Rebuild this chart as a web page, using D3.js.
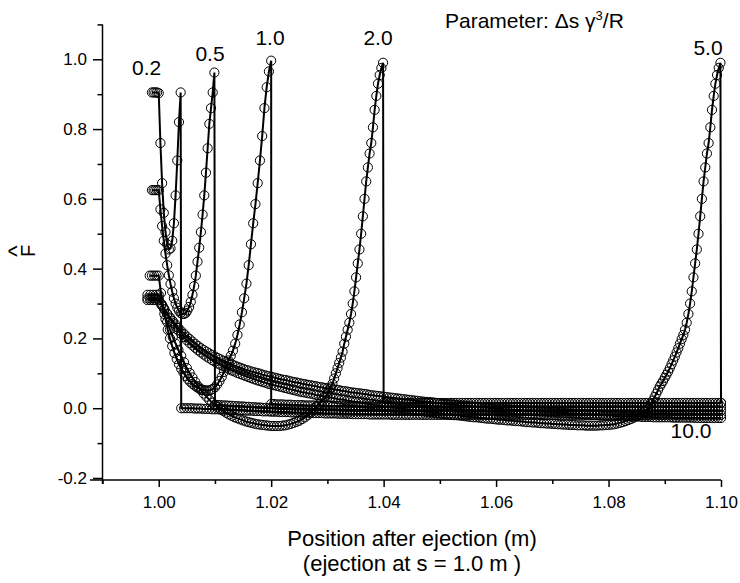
<!DOCTYPE html>
<meta charset="utf-8">
<title>F hat after ejection</title>
<style>
  body { margin: 0; background: #fff; }
  svg text { font-family: "Liberation Sans", Arial, sans-serif; fill: #000; }
  .curve { fill: none; stroke: #000; stroke-width: 2; }
  .mark { fill: none; stroke: #000; stroke-width: 1; }
  .axis path, .axis line { stroke: #000; stroke-width: 1.5; }
</style>
<body>
<svg id="chart" width="740" height="583"></svg>
<script src="https://d3js.org/d3.v7.min.js"></script>
<script>
// ---- data ----
// each piece: start s, step in s, F-hat values
var curveLabels = ["0.2", "0.5", "1.0", "2.0", "5.0", "10.0"];

var xMajor = [1.00, 1.02, 1.04, 1.06, 1.08, 1.10];
var xMinor = [0.99, 1.01, 1.03, 1.05, 1.07, 1.09];
var yMajor = [-0.2, 0.0, 0.2, 0.4, 0.6, 0.8, 1.0];
var yMinor = [-0.1, 0.1, 0.3, 0.5, 0.7, 0.9, 1.1];

// 0.2
var f02Head = [.905,.905,.905,.905,.903,.76,.645,.56,.505,.47,.455,.458,.48,.53,.61,.71,.82,.905];
var f02Tail = [0,0,0,0,0,-.001,-.001,-.001,-.002,-.002,
  -.002,-.003,-.003,-.003,-.004,-.004,-.004,-.005,-.005,-.005,
  -.006,-.006,-.006,-.007,-.007,-.007,-.008,-.008,-.008,-.009,
  -.009,-.009,-.010,-.010,-.010,-.011,-.011,-.011,-.011,-.012,
  -.012,-.012,-.012,-.013,-.013,-.013,-.013,-.014,-.014,-.014,
  -.014,-.015,-.015,-.015,-.015,-.015,-.016,-.016,-.016,-.016,
  -.016,-.017,-.017,-.017,-.017,-.017,-.017,-.018,-.018,-.018,
  -.018,-.018,-.018,-.018,-.018,-.019,-.019,-.019,-.019,-.019,
  -.019,-.019,-.019,-.019,-.019,-.019,-.019,-.019,-.019,-.019,
  -.019,-.019,-.019,-.019,-.019,-.019,-.019,-.019,-.019,-.019,
  -.019,-.019,-.019,-.019,-.019,-.019,-.019,-.019,-.019,-.019,
  -.019,-.019,-.019,-.019,-.019,-.019,-.019,-.019,-.019,-.019,
  -.019,-.019,-.019,-.019,-.019,-.019,-.019,-.019,-.019,-.019,
  -.019,-.019,-.019,-.019,-.019,-.019,-.019,-.019,-.019,-.019,
  -.019,-.019,-.019,-.019,-.019,-.019,-.019,-.019,-.019,-.019,
  -.019,-.019,-.019,-.019,-.019,-.019,-.019,-.019,-.019,-.019,
  -.019,-.019,-.019,-.019,-.019,-.019,-.019,-.019,-.019,-.019,
  -.019,-.019,-.019,-.019,-.019,-.019,-.019,-.019,-.019,-.019,
  -.019,-.019,-.019,-.019,-.019,-.019,-.019,-.019,-.019,-.019,
  -.019,-.019,-.019];

// 0.5
var f05Head = [.625,.625,.625,.625,
  .625,.57,.522,.48,.443,.41,.381,.356,.334,.315,
  .30,.288,.279,.273,.27,.27,.273,.28,.29,.305,
  .325,.35,.38,.42,.46,.505,.555,.61,.675,.745,
  .815,.86,.905,.962];
var f05Tail = [.010,.009,.009,.008,.008,.007,.007,.006,.006,.005,
  .005,.004,.004,.003,.003,.002,.002,.001,.001,0,
  0,-.001,-.001,-.002,-.002,-.002,-.003,-.003,-.003,-.004,
  -.004,-.004,-.004,-.005,-.005,-.005,-.005,-.005,-.006,-.006,
  -.006,-.006,-.006,-.006,-.006,-.007,-.007,-.007,-.007,-.007,
  -.007,-.007,-.007,-.007,-.007,-.007,-.007,-.007,-.007,-.007,
  -.007,-.007,-.007,-.007,-.007,-.007,-.007,-.007,-.007,-.007,
  -.007,-.007,-.007,-.007,-.007,-.007,-.007,-.007,-.007,-.007,
  -.007,-.007,-.007,-.007,-.007,-.007,-.007,-.007,-.007,-.007,
  -.007,-.007,-.007,-.007,-.007,-.007,-.007,-.007,-.007,-.007,
  -.007,-.007,-.007,-.007,-.007,-.007,-.007,-.007,-.007,-.007,
  -.007,-.007,-.007,-.007,-.007,-.007,-.007,-.007,-.007,-.007,
  -.007,-.007,-.007,-.007,-.007,-.007,-.007,-.007,-.007,-.007,
  -.007,-.007,-.007,-.007,-.007,-.007,-.007,-.007,-.007,-.007,
  -.007,-.007,-.007,-.007,-.007,-.007,-.007,-.007,-.007,-.007,
  -.007,-.007,-.007,-.007,-.007,-.007,-.007,-.007,-.007,-.007,
  -.007,-.007,-.007,-.007,-.007,-.007,-.007,-.007,-.007,-.007,
  -.007,-.007,-.007,-.007,-.007,-.007,-.007,-.007,-.007,-.007,
  -.007];

// 1.0
var f10Head = [.38,.38,.38,.38,
  .38,.33,.29,.255,.225,.2,.178,.158,.141,.126,
  .113,.102,.092,.083,.076,.07,.065,.06,.057,.054,
  .052,.051,.051,.052,.055,.06,.068,.078,.09,.104,
  .12,.137,.15,.165,.185,.21,.24,.275,.315,.357,
  .41,.47,.53,.585,.645,.71,.78,.86,.92,.965,
  .996];
var f10Tail = [.012,.012,.011,.011,.011,.010,.010,.010,.009,.009,
  .009,.009,.008,.008,.008,.008,.007,.007,.007,.007,
  .007,.006,.006,.006,.006,.006,.006,.005,.005,.005,
  .005,.005,.005,.005,.005,.005,.005,.004,.004,.004,
  .004,.004,.004,.004,.004,.004,.004,.004,.004,.004,
  .004,.004,.004,.004,.004,.004,.004,.004,.004,.004,
  .004,.004,.004,.004,.004,.004,.004,.004,.004,.004,
  .004,.004,.004,.004,.004,.004,.004,.004,.004,.004,
  .004,.004,.004,.004,.004,.004,.004,.004,.004,.004,
  .004,.004,.004,.004,.004,.004,.004,.004,.004,.004,
  .004,.004,.004,.004,.004,.004,.004,.004,.004,.004,
  .004,.004,.004,.004,.004,.004,.004,.004,.004,.004,
  .004,.004,.004,.004,.004,.004,.004,.004,.004,.004,
  .004,.004,.004,.004,.004,.004,.004,.004,.004,.004,
  .004,.004,.004,.004,.004,.004,.004,.004,.004,.004,
  .004,.004,.004,.004,.004,.004,.004,.004,.004,.004,
  .004];

// 2.0
var f20Head = [.325,.325,.325,.325,
  .325,.297,.27,.247,.225,.204,.185,.167,.15,.132,
  .115,.101,.088,.075,.063,.052,.042,.033,.024,.016,
  .009,.003,-.003,-.008,-.013,-.018,-.022,-.026,-.029,-.032,
  -.035,-.038,-.04,-.042,-.044,-.046,-.047,-.048,-.049,-.05,
  -.051,-.051,-.051,-.051,-.05,-.049,-.047,-.045,-.042,-.039,
  -.036,-.031,-.026,-.02,-.013,-.005,.003,.012,.022,.03,
  .04];
var f20Rise = [.05,.06,.07,.085,.1,.115,.13,.145,.162,.185,
  .205,.225,.245,.27,.3,.335,.375,.415,.455,.5,
  .55,.6,.65,.69,.73,.76,.805,.855,.895,.93,
  .955,.975,.99];
var f20Tail = [.015,.015,.015,.015,.015,.015,.015,.015,.015,.015,
  .015,.015,.015,.015,.015,.015,.015,.015,.015,.015,
  .015,.015,.015,.015,.015,.015,.015,.015,.015,.015,
  .015,.015,.015,.015,.015,.015,.015,.015,.015,.015,
  .015,.015,.015,.015,.015,.015,.015,.015,.015,.015,
  .015,.015,.015,.015,.015,.015,.015,.015,.015,.015,
  .015,.015,.015,.015,.015,.015,.015,.015,.015,.015,
  .015,.015,.015,.015,.015,.015,.015,.015,.015,.015,
  .015,.015,.015,.015,.015,.015,.015,.015,.015,.015,
  .015,.015,.015,.015,.015,.015,.015,.015,.015,.015,
  .015,.015,.015,.015,.015,.015,.015,.015,.015,.015,
  .015,.015,.015,.015,.015,.015,.015,.015,.015,.015,
  .015];

// 5.0
var f50Head = [.315,.315,.315,.315,
  .315,.299,.284,.270,.257,.245,.234,.223,.213,.204,
  .195,.187,.180,.173,.166,.160,.154,.148,.143,.138,
  .133,.128,.124,.120,.116,.112,.108,.105,.101,.098,
  .095,.092,.089,.086,.083,.080,.078,.075,.073,.070,
  .068,.066,.064,.062,.060,.058,.056,.054,.052,.050,
  .048,.046,.045,.043,.042,.040,.038,.037,.035,.034,
  .032,.031,.029,.028,.026,.025,.024,.022,.021,.019,
  .018,.017,.015,.014,.013,.012,.011,.009,.008,.007,
  .006,.005,.003,.002,.001,0,-.001,-.002,-.003,-.004,
  -.005,-.006,-.007,-.008,-.009,-.010,-.011,-.012,-.013,-.014,
  -.015,-.016,-.017,-.018,-.019,-.020,-.020,-.021,-.022,-.023,
  -.024,-.025,-.026,-.026,-.027,-.028,-.029,-.030,-.030,-.031,
  -.032,-.033,-.033,-.034,-.035,-.035,-.036,-.037,-.037,-.038,
  -.039,-.040,-.040,-.041,-.041,-.042,-.043,-.043,-.044,-.044,
  -.045,-.045,-.046,-.046,-.047,-.047,-.048,-.048,-.048,-.049,
  -.049,-.049,-.050,-.050,-.050,-.050,-.050,-.049,-.049,-.048,
  -.048,-.047,-.046,-.044,-.042,-.040,-.037,-.034,-.031,-.027,
  -.022,-.018,-.013,-.008,-.002];
var f50Rise = [.012,.022,.032,.042,.052,.062,.07,.078,.087,.096,
  .105,.115,.126,.137,.148,.16,.172,.185,.198,.21,
  .225,.245,.27,.3,.335,.375,.415,.455,.5,.55,
  .6,.65,.69,.73,.76,.805,.855,.895,.93,.955,
  .975,.99];
var f50End = [.015];

// 10.0
var f100All = [.31,.31,.31,.31,
  .31,.296,.283,.271,.26,.25,.24,.23,.221,.213,
  .205,.198,.191,.184,.178,.172,.167,.162,.157,.152,
  .148,.144,.140,.136,.133,.130,.126,.122,.119,.116,
  .113,.110,.108,.105,.103,.101,.099,.096,.094,.092,
  .090,.088,.086,.084,.082,.081,.079,.077,.075,.074,
  .072,.070,.069,.067,.066,.064,.063,.061,.060,.058,
  .057,.056,.054,.053,.052,.050,.049,.048,.046,.045,
  .044,.043,.042,.041,.040,.038,.037,.036,.035,.034,
  .033,.032,.031,.030,.029,.028,.027,.026,.025,.024,
  .023,.022,.021,.020,.019,.018,.018,.017,.016,.015,
  .014,.013,.012,.011,.011,.010,.009,.008,.008,.007,
  .006,.005,.004,.004,.003,.002,.002,.001,0,0,
  -.001,-.002,-.002,-.003,-.003,-.004,-.005,-.005,-.006,-.006,
  -.007,-.007,-.008,-.008,-.009,-.009,-.010,-.010,-.011,-.011,
  -.012,-.012,-.013,-.013,-.014,-.014,-.015,-.015,-.016,-.016,
  -.017,-.017,-.018,-.018,-.019,-.019,-.019,-.020,-.020,-.021,
  -.021,-.021,-.022,-.022,-.022,-.023,-.023,-.023,-.024,-.024,
  -.024,-.024,-.025,-.025,-.025,-.025,-.026,-.026,-.026,-.026,
  -.026,-.026,-.026,-.027,-.027,-.027,-.027,-.027,-.027,-.027,
  -.027,-.028,-.028,-.028,-.028,-.028,-.028,-.028,-.028,-.028,
  -.028];

// pieces: [start s, step, values]
var curves = [
  {label: curveLabels[0], pieces: [[0.9988, 0.0003, f02Head], [1.004, 0.0005, f02Tail]]},
  {label: curveLabels[1], pieces: [[0.9988, 0.0003, f05Head], [1.010, 0.0005, f05Tail]]},
  {label: curveLabels[2], pieces: [[0.9984, 0.0004, f10Head], [1.020, 0.0005, f10Tail]]},
  {label: curveLabels[3], pieces: [[0.998, 0.0005, f20Head], [1.0303, 0.0003, f20Rise], [1.040, 0.0005, f20Tail]]},
  {label: curveLabels[4], pieces: [[0.998, 0.0005, f50Head], [1.0876, 0.0003, f50Rise], [1.100, 0, f50End]]},
  {label: curveLabels[5], pieces: [[0.998, 0.0005, f100All]]}
];
curves.forEach(function(c) {
  c.points = [];
  c.pieces.forEach(function(p) {
    p[2].forEach(function(v, i) { c.points.push([p[0] + i * p[1], v]); });
  });
});

// ---- chart ----
var svg = d3.select("#chart");
var x = d3.scaleLinear().domain([0.99, 1.10]).range([102.5, 721]);
var y = d3.scaleLinear().domain([-0.2, 1.1]).range([478, 24.4]);

var xAxisY = 480;

// x axis
var gx = svg.append("g").attr("class", "axis").attr("transform", "translate(0," + xAxisY + ")");
gx.append("g")
  .call(d3.axisBottom(x).tickValues(xMajor).tickSize(7).tickPadding(9)
    .tickFormat(function(d) { return d.toFixed(2); }))
  .call(function(g) { g.select(".domain").remove(); })
  .selectAll("text").attr("font-size", 17).attr("font-family", null);
gx.append("g")
  .call(d3.axisBottom(x).tickValues(xMinor).tickSize(4).tickFormat(""))
  .call(function(g) { g.select(".domain").remove(); });
gx.append("line").attr("x1", 90).attr("x2", x(1.10)).attr("stroke", "#000").attr("stroke-width", 1.5);

// y axis
var gy = svg.append("g").attr("class", "axis").attr("transform", "translate(" + x(0.99) + ",0)");
gy.append("g")
  .call(d3.axisLeft(y).tickValues(yMajor).tickSize(9.5).tickPadding(6)
    .tickFormat(function(d) { return d.toFixed(1); }))
  .call(function(g) { g.select(".domain").remove(); })
  .selectAll("text").attr("font-size", 17).attr("font-family", null);
gy.append("g")
  .call(d3.axisLeft(y).tickValues(yMinor).tickSize(5).tickFormat(""))
  .call(function(g) { g.select(".domain").remove(); });
gy.append("line").attr("y1", y(1.1)).attr("y2", 484).attr("stroke", "#000").attr("stroke-width", 1.5);

svg.selectAll(".axis text").style("fill", "#000");

// curves
var line = d3.line().x(function(d) { return x(d[0]); }).y(function(d) { return y(d[1]); });
var plot = svg.append("g");
curves.forEach(function(c) {
  plot.append("path").attr("class", "curve").attr("d", line(c.points));
});
curves.forEach(function(c) {
  plot.append("g").selectAll("circle")
    .data(c.points)
    .enter().append("circle")
      .attr("class", "mark")
      .attr("cx", function(d) { return x(d[0]); })
      .attr("cy", function(d) { return y(d[1]); })
      .attr("r", 4.6);
});

// curve labels
var labelPos = [[146.7, 75], [210, 61], [270, 45], [378, 45], [708, 55], [691, 438]];
svg.append("g").selectAll("text")
  .data(curves)
  .enter().append("text")
    .attr("x", function(d, i) { return labelPos[i][0]; })
    .attr("y", function(d, i) { return labelPos[i][1]; })
    .attr("text-anchor", "middle")
    .attr("font-size", 21)
    .text(function(d) { return d.label; });

// parameter note
var note = svg.append("text").attr("x", 445).attr("y", 28).attr("font-size", 21);
note.append("tspan").text("Parameter: \u0394s \u03B3");
note.append("tspan").attr("font-size", 13).attr("dy", -8).text("3");
note.append("tspan").attr("dy", 8).text("/R");

// axis titles
svg.append("text").attr("x", 412).attr("y", 546).attr("text-anchor", "middle")
  .attr("font-size", 22).text("Position after ejection (m)");
svg.append("text").attr("x", 412).attr("y", 571).attr("text-anchor", "middle")
  .attr("font-size", 22).text("(ejection at s = 1.0 m )");

// y title: F with hat, rotated
var yl = svg.append("g").attr("transform", "translate(35,251) rotate(-90)");
yl.append("text").attr("text-anchor", "middle").attr("font-size", 20).text("F");
yl.append("text").attr("text-anchor", "middle").attr("y", -10).attr("font-size", 24).text("^");
</script>
</body>
